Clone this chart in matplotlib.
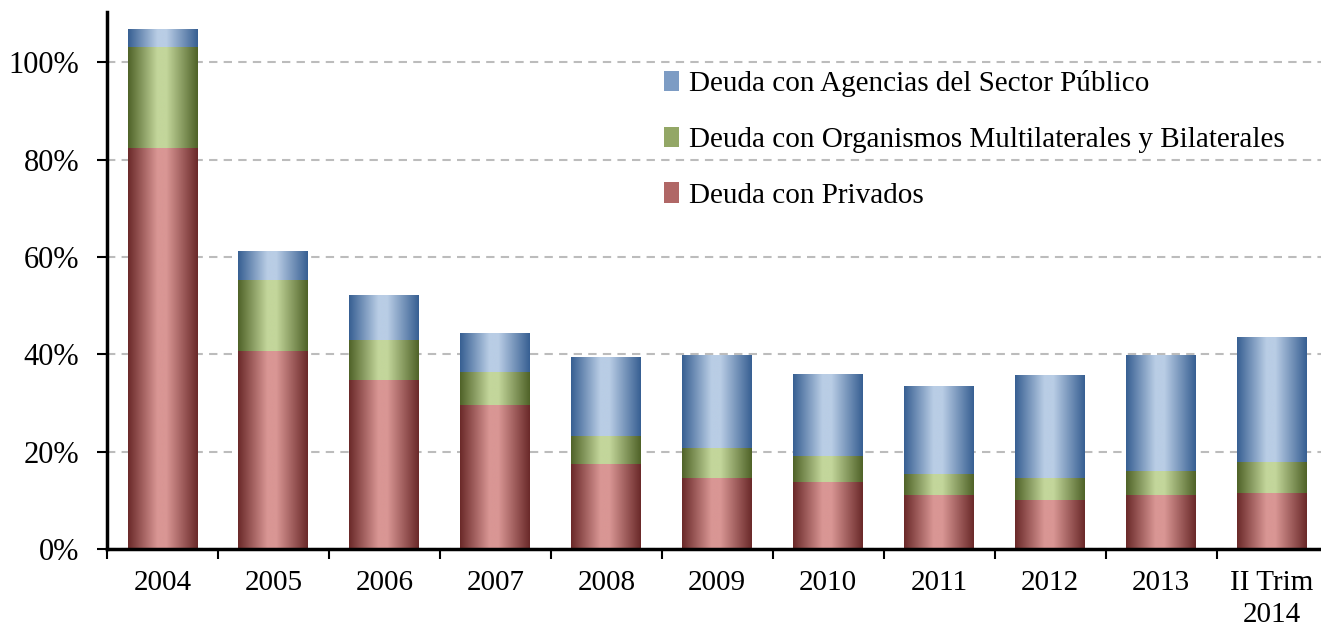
import numpy as np
import matplotlib
matplotlib.use('Agg')
import matplotlib.pyplot as plt
from matplotlib.colors import LinearSegmentedColormap
from matplotlib.patches import Patch

# data (% of GDP style shares)
categories = ['2004', '2005', '2006', '2007', '2008', '2009', '2010', '2011', '2012', '2013', 'II Trim\n2014']
privados = [82.3, 40.7, 34.7, 29.6, 17.5, 14.6, 13.8, 11.1, 10.1, 11.1, 11.5]
multilaterales = [20.8, 14.5, 8.2, 6.7, 5.7, 6.1, 5.3, 4.3, 4.5, 4.9, 6.4]
agencias = [3.7, 6.0, 9.3, 8.1, 16.2, 19.1, 16.8, 18.1, 21.1, 23.8, 25.6]

labels = ['Deuda con Privados',
          'Deuda con Organismos Multilaterales y Bilaterales',
          'Deuda con Agencias del Sector Público']
dark = ['#6a2929', '#4f6228', '#375f92']
light = ['#d99694', '#c3d69b', '#b9cde5']
mid = ['#b06766', '#93a766', '#7d9cc4']

plt.rcParams['font.family'] = ['Liberation Serif', 'DejaVu Serif']

fig = plt.figure(figsize=(13.21, 6.29), dpi=100)
ax = fig.add_axes([0.081, 0.127, 0.924, 0.854])

x = np.arange(len(categories))
grad = np.linspace(0, 1, 256).reshape(1, -1)

bottom = np.zeros(len(categories))
for vals, d, l in zip([privados, multilaterales, agencias], dark, light):
    cmap = LinearSegmentedColormap.from_list('g', [(0, d), (0.42, l), (0.55, l), (1, d)])
    bars = ax.bar(x, vals, 0.63, bottom=bottom, facecolor='none', edgecolor='none', zorder=2)
    for p in bars:
        bx, by = p.get_x(), p.get_y()
        im = ax.imshow(grad, cmap=cmap, extent=[bx, bx + p.get_width(), by, by + p.get_height()],
                       aspect='auto', zorder=2, interpolation='bilinear')
        im.set_clip_path(p)
    bottom += np.array(vals)

ax.set_xlim(-0.5, 10.5)
ax.set_ylim(0, 110.3)

ax.set_yticks([0, 20, 40, 60, 80, 100])
ax.set_yticklabels(['0%', '20%', '40%', '60%', '80%', '100%'])
ax.yaxis.grid(True, color='#bcbcbc', linestyle=(0, (4, 3)), linewidth=1.5, zorder=0)
ax.set_axisbelow(True)

ax.set_xticks(np.arange(-0.5, 10.6, 1))
ax.set_xticklabels([])
ax.set_xticks(x, minor=True)
ax.set_xticklabels(categories, minor=True, linespacing=1.3)
ax.tick_params(axis='x', which='major', direction='out', length=7, width=1.5)
ax.tick_params(axis='x', which='minor', length=0, pad=15, labelsize=21)
ax.tick_params(axis='y', direction='out', length=7, width=1.5, pad=13, labelsize=22)

for s in ['top', 'right']:
    ax.spines[s].set_visible(False)
for s in ['left', 'bottom']:
    ax.spines[s].set_linewidth(2.5)

handles = [Patch(facecolor=c, edgecolor='none') for c in mid]
ax.legend(handles[::-1], labels[::-1], loc='upper left', bbox_to_anchor=(0.435, 0.94),
          frameon=False, fontsize=21, labelspacing=1.0, handlelength=0.5, handleheight=0.7,
          handletextpad=0.35)

fig.savefig('out.png', dpi=100)
